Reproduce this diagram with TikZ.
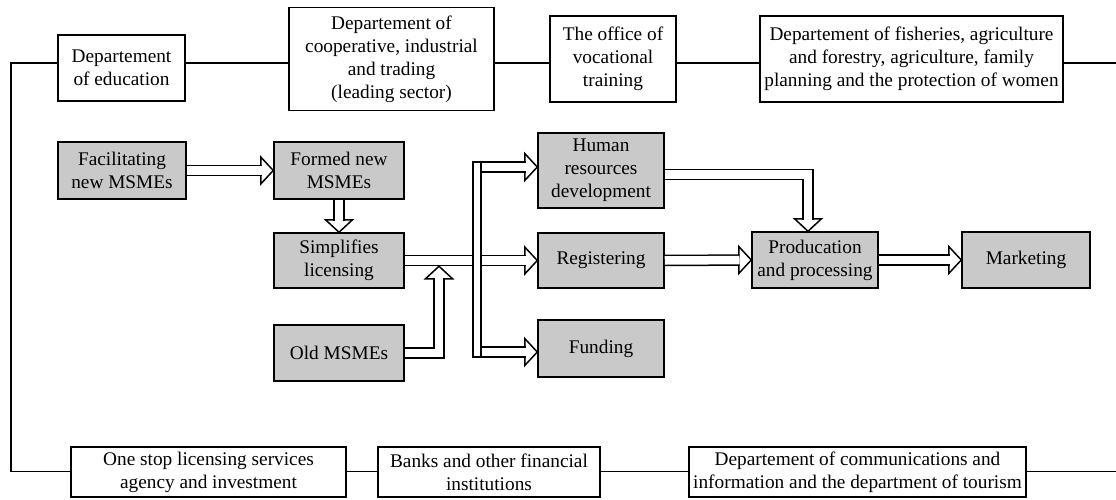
\documentclass[tikz,border=0pt]{standalone}
\usepackage{fontspec}
\setmainfont{Liberation Serif}
\usetikzlibrary{calc}
\tikzset{
  basebox/.style={draw=black, line width=1.5pt, align=center, inner sep=1pt, font=\fontsize{19.3}{23}\selectfont},
  wbox/.style={basebox, fill=white},
  gbox/.style={basebox, fill=black!21},
  conn/.style={draw=black, line width=1.5pt},
  shaft/.style={draw=black, line width=1.5pt, double=white, double distance=8.5pt},
  tohead/.style={shorten >=11.75pt},
  fathead/.pic={\draw[line width=1.5pt, fill=white, line join=miter] (0,0) -- (-12.5,-13.5) -- (-12.5,13.5) -- cycle;}
}
\begin{document}
\begin{tikzpicture}[x=1pt,y=-1pt]
\useasboundingbox (0,0) rectangle (1116,500);
% top row
\node[wbox, minimum width=127pt, minimum height=66pt] (edu) at (121.5,68) {Departement\\of education};
\node[wbox, minimum width=205pt, minimum height=103pt] (coop) at (391.5,59) {Departement of\\cooperative, industrial\\and trading\\(leading sector)};
\node[wbox, minimum width=126pt, minimum height=86pt] (voc) at (613,59) {The office of\\vocational\\training};
\node[wbox, minimum width=303pt, minimum height=86pt] (fish) at (911.5,59) {Departement of fisheries, agriculture\\and forestry, agriculture, family\\planning and the protection of women};
% bottom row
\node[wbox, minimum width=275pt, minimum height=50pt] (one) at (208.5,472) {One stop licensing services\\agency and investment};
\node[wbox, minimum width=222pt, minimum height=50pt] (bank) at (489,472) {Banks and other financial\\institutions};
\node[wbox, minimum width=337pt, minimum height=50pt] (comm) at (857.5,472) {Departement of communications and\\information and the department of tourism};
% middle gray boxes
\node[gbox, minimum width=128pt, minimum height=57pt] (fac) at (122,170.5) {Facilitating\\new MSMEs};
\node[gbox, minimum width=130pt, minimum height=57pt] (formed) at (339,170.5) {Formed new\\MSMEs};
\node[gbox, minimum width=130pt, minimum height=55pt] (simp) at (339,260.5) {Simplifies\\licensing};
\node[gbox, minimum width=130pt, minimum height=56pt] (old) at (339,353) {Old MSMEs};
\node[gbox, minimum width=126pt, minimum height=75pt] (human) at (601,170.5) {Human\\resources\\development};
\node[gbox, minimum width=126pt, minimum height=55pt] (reg) at (601,260.5) {Registering};
\node[gbox, minimum width=126pt, minimum height=57pt] (fund) at (601,348.5) {Funding};
\node[gbox, minimum width=126pt, minimum height=56pt] (prod) at (815,260) {Producation\\and processing};
\node[gbox, minimum width=128pt, minimum height=56pt] (mark) at (1026,260) {Marketing};
\node[draw=black, line width=1.5pt, fill=white, minimum width=8pt, minimum height=195pt, inner sep=0pt] (bus) at (477,259.5) {};
% frame lines
\coordinate (ty) at (0,63);
\coordinate (by) at (0,471.5);
\coordinate (tyR) at (1116,63);
\coordinate (byR) at (1116,471.5);
\coordinate (L) at (11,300);
\draw[conn] (edu.east |- ty) -- (coop.west |- ty);
\draw[conn] (coop.east |- ty) -- (voc.west |- ty);
\draw[conn] (voc.east |- ty) -- (fish.west |- ty);
\draw[conn] (fish.east |- ty) -- (tyR);
\draw[conn] (edu.west |- ty) -| (L) |- (one.west |- by);
\draw[conn] (one.east |- by) -- (bank.west |- by);
\draw[conn] (bank.east |- by) -- (comm.west |- by);
\draw[conn] (comm.east |- by) -- (byR);
% fat arrows
\pic at (formed.west) {fathead};
\draw[shaft, tohead] (fac.east) -- (formed.west);
\pic[rotate=-90] at (simp.north) {fathead};
\draw[shaft, tohead] (formed.south) -- (simp.north);
\draw[shaft] (simp.east) -- (simp.east -| bus.west);
\coordinate (oldtip) at (439,266.25);
\pic[rotate=90] at (oldtip) {fathead};
\draw[shaft, tohead] (old.east) -| (oldtip);
\coordinate (hA) at ([yshift=-5.75pt]bus.north east);
\coordinate (fA) at ([yshift=5.75pt]bus.south east);
\pic at (hA -| human.west) {fathead};
\draw[shaft, tohead] (hA) -- (hA -| human.west);
\pic at (reg.west) {fathead};
\draw[shaft, tohead] (reg.west -| bus.east) -- (reg.west);
\pic at (fA -| fund.west) {fathead};
\draw[shaft, tohead] (fA) -- (fA -| fund.west);
\coordinate (hpS) at ([yshift=-4pt]human.east);
\coordinate (hpT) at ([xshift=-7pt]prod.north);
\pic[rotate=-90] at (hpT) {fathead};
\draw[shaft, tohead] (hpS) -| (hpT);
\pic at (prod.west) {fathead};
\draw[shaft, tohead] (reg.east) -- (prod.west);
\pic at (mark.west) {fathead};
\draw[shaft, tohead] (prod.east) -- (mark.west);
\end{tikzpicture}
\end{document}
